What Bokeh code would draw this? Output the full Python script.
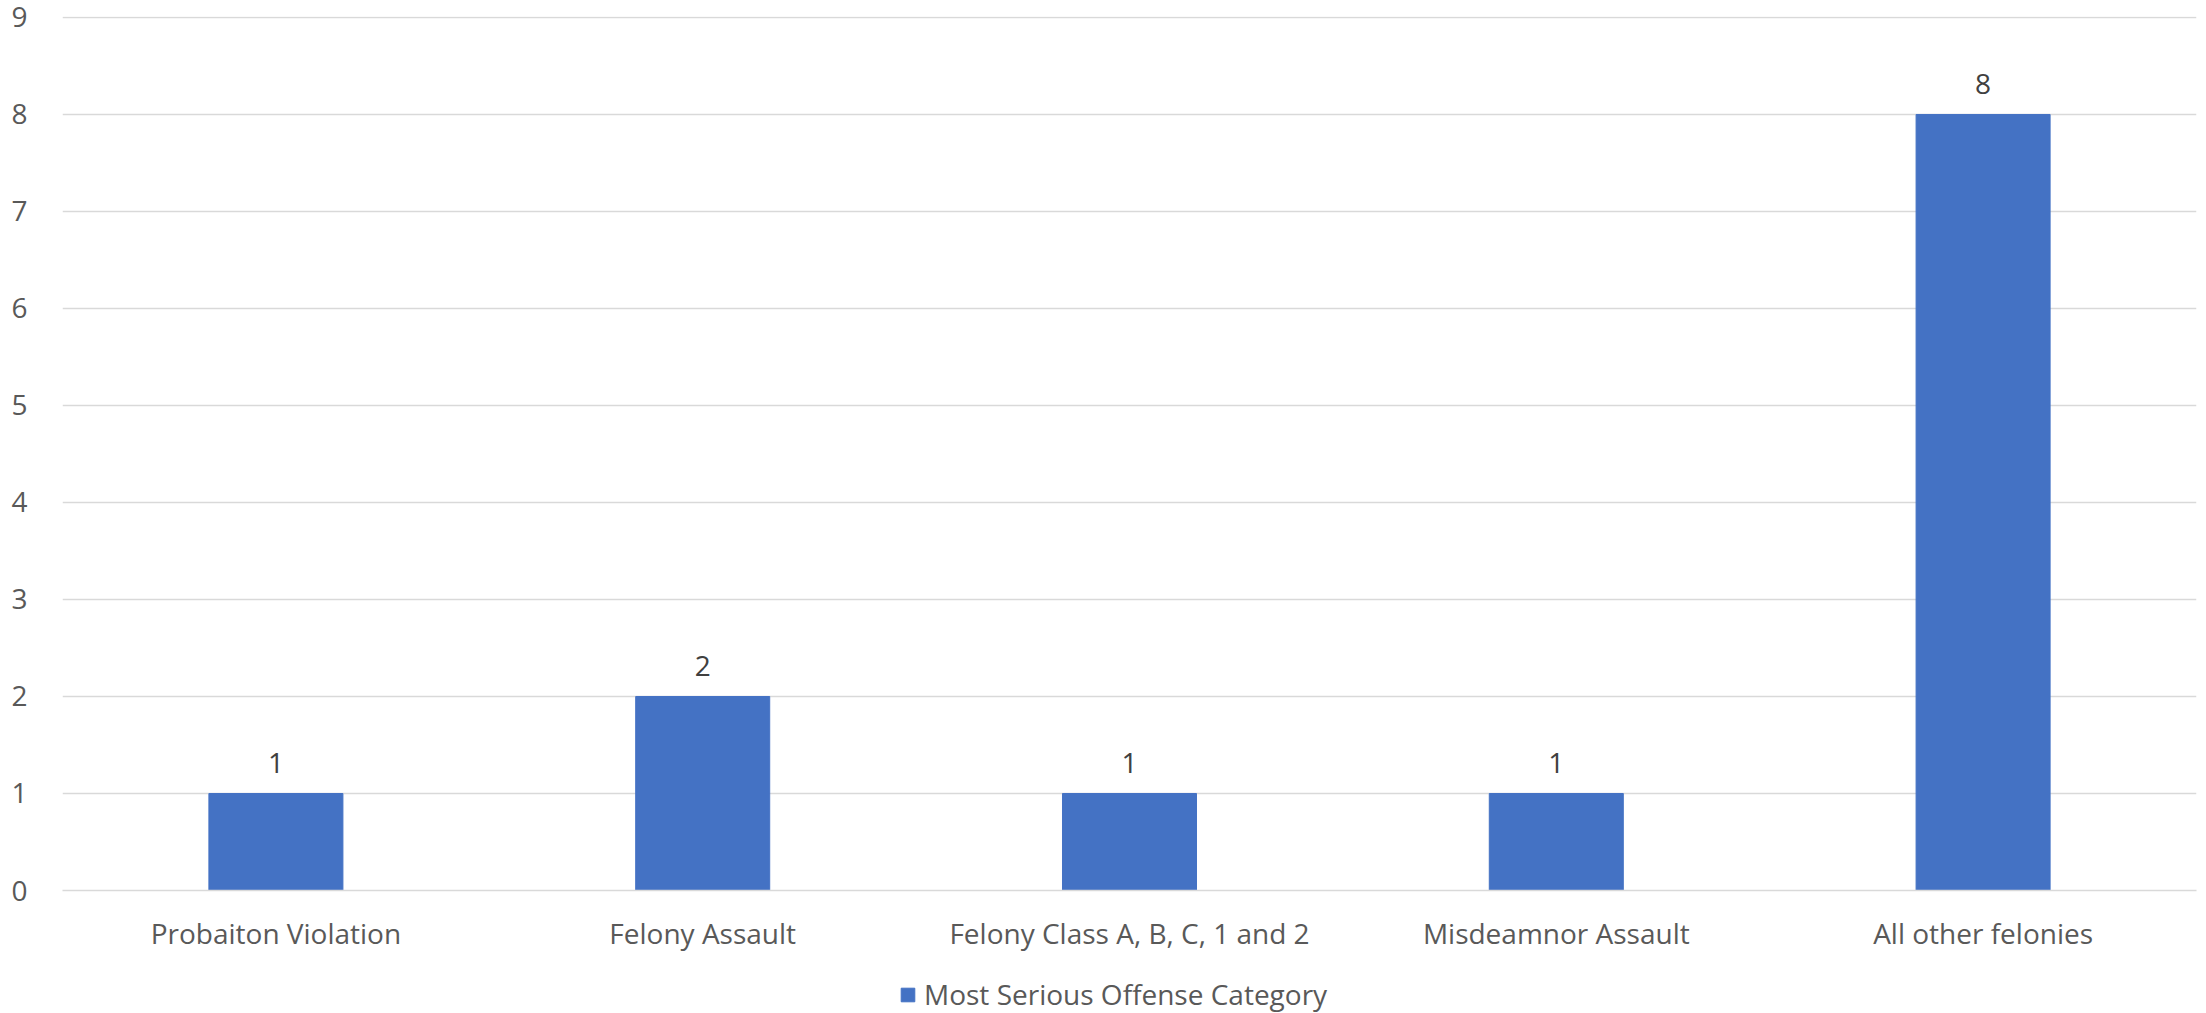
from bokeh.plotting import figure
from bokeh.layouts import column
from bokeh.models import ColumnDataSource, FactorRange, Range1d, Legend, LegendItem, SingleIntervalTicker
from bokeh.core.properties import value
from bokeh.embed import file_html
from bokeh.resources import INLINE

categories = ["Probaiton Violation", "Felony Assault", "Felony Class A, B, C, 1 and 2",
              "Misdeamnor Assault", "All other felonies"]
counts = [1, 2, 1, 1, 8]
series_name = "Most Serious Offense Category"

FONT = "Open Sans"
FS = "28px"
BAR = "#4472C4"
src = ColumnDataSource(dict(cat=categories, val=counts, lab=[str(v) for v in counts]))

p = figure(width=2206, height=960, x_range=FactorRange(*categories, range_padding=0),
           y_range=Range1d(0, 9.01), output_backend="svg", toolbar_location=None,
           min_border_left=62, min_border_right=10, min_border_top=16, min_border_bottom=70)
p.outline_line_color = None
p.background_fill_color = "white"
p.border_fill_color = "white"

r = p.vbar(x="cat", top="val", width=0.314, source=src, fill_color=BAR,
           line_color=BAR, line_width=1)
p.text(x="cat", y="val", text="lab", source=src, text_align="center",
       text_baseline="middle", y_offset=-30, text_font=value(FONT),
       text_font_size=FS, text_color="#404040")

p.yaxis.ticker = SingleIntervalTicker(interval=1)
p.yaxis.axis_line_color = None
p.yaxis.major_tick_line_color = None
p.yaxis.minor_tick_line_color = None
p.yaxis.major_label_text_font = FONT
p.yaxis.major_label_text_font_size = FS
p.yaxis.major_label_text_color = "#595959"
p.yaxis.major_label_standoff = 29

p.xaxis.axis_line_color = "#D9D9D9"
p.xaxis.axis_line_width = 1.5
p.xaxis.major_tick_line_color = None
p.xaxis.minor_tick_line_color = None
p.xaxis.major_label_text_font = FONT
p.xaxis.major_label_text_font_size = FS
p.xaxis.major_label_text_color = "#595959"
p.xaxis.major_label_standoff = 17

p.xgrid.grid_line_color = None
p.ygrid.grid_line_color = "#D9D9D9"
p.ygrid.grid_line_width = 1.5

# legend strip below the chart
p2 = figure(width=2206, height=53, x_range=Range1d(0, 1), y_range=Range1d(0, 1),
            output_backend="svg", toolbar_location=None,
            min_border_left=0, min_border_right=0, min_border_top=0, min_border_bottom=0)
p2.axis.visible = False
p2.grid.grid_line_color = None
p2.outline_line_color = None
p2.border_fill_color = "white"
p2.background_fill_color = "white"
# hidden proxy renderer that supplies the legend swatch style
lr = p2.vbar(x=[0.5], top=[1], width=0.5, fill_color=BAR, line_color=BAR)
lr.visible = False
legend = Legend(items=[LegendItem(label=series_name, renderers=[lr])],
                orientation="horizontal", location=(837, 0),
                border_line_color=None, background_fill_alpha=0,
                label_text_font=FONT, label_text_font_size=FS,
                label_text_color="#595959", glyph_width=17, glyph_height=17,
                label_standoff=8, padding=0, margin=0)
p2.add_layout(legend, "center")

open("out.html", "w").write(file_html(column(p, p2, spacing=0), INLINE))
